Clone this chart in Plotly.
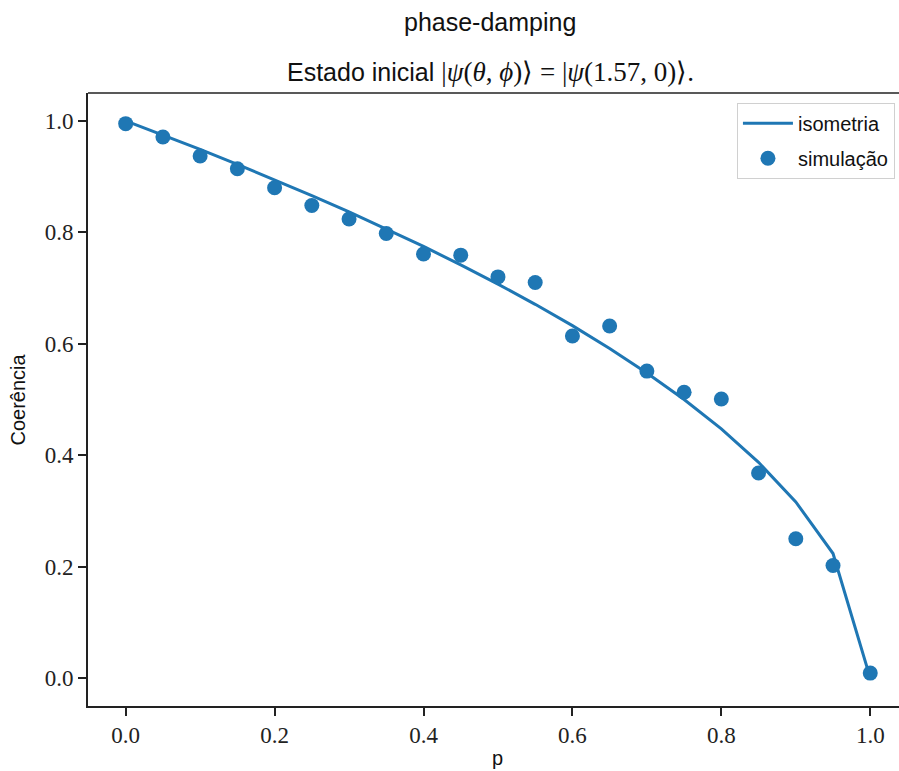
import plotly.graph_objects as go

# data
p_vals = [0.0, 0.05, 0.10, 0.15, 0.20, 0.25, 0.30, 0.35, 0.40, 0.45, 0.50,
          0.55, 0.60, 0.65, 0.70, 0.75, 0.80, 0.85, 0.90, 0.95, 1.0]
isometria = [1.0, 0.9747, 0.9487, 0.9220, 0.8944, 0.8660, 0.8367, 0.8062,
             0.7746, 0.7416, 0.7071, 0.6708, 0.6325, 0.5916, 0.5477, 0.5000,
             0.4472, 0.3873, 0.3162, 0.2236, 0.0]
simulacao = [0.995, 0.971, 0.937, 0.914, 0.880, 0.848, 0.824, 0.798, 0.761,
             0.759, 0.720, 0.710, 0.614, 0.632, 0.551, 0.513, 0.501, 0.368,
             0.250, 0.202, 0.009]
x_ticks = [0.0, 0.2, 0.4, 0.6, 0.8, 1.0]
y_ticks = [0.0, 0.2, 0.4, 0.6, 0.8, 1.0]

BLUE = "#1f77b4"
AX = "#222222"
SANS = "Liberation Sans"
SERIF = "Liberation Serif"

W, H = 899, 771
ML, MR, MT, MB = 88, 0, 93, 65

fig = go.Figure()
fig.add_trace(go.Scatter(x=p_vals, y=isometria, mode="lines", name="isometria",
                         line=dict(color=BLUE, width=3), legendgroup="a"))
fig.add_trace(go.Scatter(x=p_vals, y=simulacao, mode="markers", name="simulação",
                         marker=dict(color=BLUE, size=15, line=dict(width=0)),
                         legendgroup="b"))

fig.update_layout(
    width=W, height=H,
    margin=dict(l=ML, r=MR, t=MT, b=MB, pad=0),
    paper_bgcolor="white", plot_bgcolor="white",
    showlegend=True,
    legend=dict(x=0.995, y=0.984, xanchor="right", yanchor="top",
                bgcolor="white", bordercolor="#d0d0d0", borderwidth=1,
                font=dict(family=SANS, size=20, color="#111"),
                tracegroupgap=6, itemwidth=50),
    xaxis=dict(range=[-0.0506, 1.0386], tickvals=x_ticks,
               ticktext=[f"{v:.1f}" for v in x_ticks],
               showgrid=False, zeroline=False,
               showline=True, linecolor=AX, linewidth=1.6,
               ticks="outside", ticklen=8, tickwidth=1.6, tickcolor=AX,
               tickfont=dict(family=SERIF, size=23, color="#222")),
    yaxis=dict(range=[-0.05, 1.05], tickvals=y_ticks,
               ticktext=[f"{v:.1f}" for v in y_ticks],
               showgrid=False, zeroline=False,
               showline=True, linecolor=AX, linewidth=1.6,
               ticks="outside", ticklen=8, tickwidth=1.6, tickcolor=AX,
               tickfont=dict(family=SERIF, size=23, color="#222")),
)

# top spine
fig.add_shape(type="line", xref="paper", yref="paper", x0=0, x1=1, y0=1, y1=1,
              line=dict(color=AX, width=1.6), layer="above")

pw = W - ML - MR
ph = H - MT - MB

def px_x(x):
    return (x - ML) / pw

def px_y(y):
    return (H - MB - y) / ph

fig.add_annotation(text="phase-damping", xref="paper", yref="paper",
                   x=px_x(490), y=px_y(22), showarrow=False,
                   xanchor="center", yanchor="middle",
                   font=dict(family=SANS, size=25, color="#111"))
fig.add_annotation(
    text=('Estado inicial <span style="font-family:Liberation Serif;font-size:27px">'
          '|<i>ψ</i>(<i>θ</i>, <i>ϕ</i>)⟩ = |<i>ψ</i>(1.57, 0)⟩.</span>'),
    xref="paper", yref="paper", x=px_x(490), y=px_y(72), showarrow=False,
    xanchor="center", yanchor="middle",
    font=dict(family=SANS, size=25, color="#111"))
fig.add_annotation(text="Coerência", xref="paper", yref="paper",
                   x=px_x(17.5), y=px_y(400), showarrow=False, textangle=-90,
                   xanchor="center", yanchor="middle",
                   font=dict(family=SANS, size=20, color="#111"))
fig.add_annotation(text="p", xref="paper", yref="paper",
                   x=px_x(497), y=px_y(758), showarrow=False,
                   xanchor="center", yanchor="middle",
                   font=dict(family=SANS, size=20, color="#111"))

fig.write_html("out.html")
